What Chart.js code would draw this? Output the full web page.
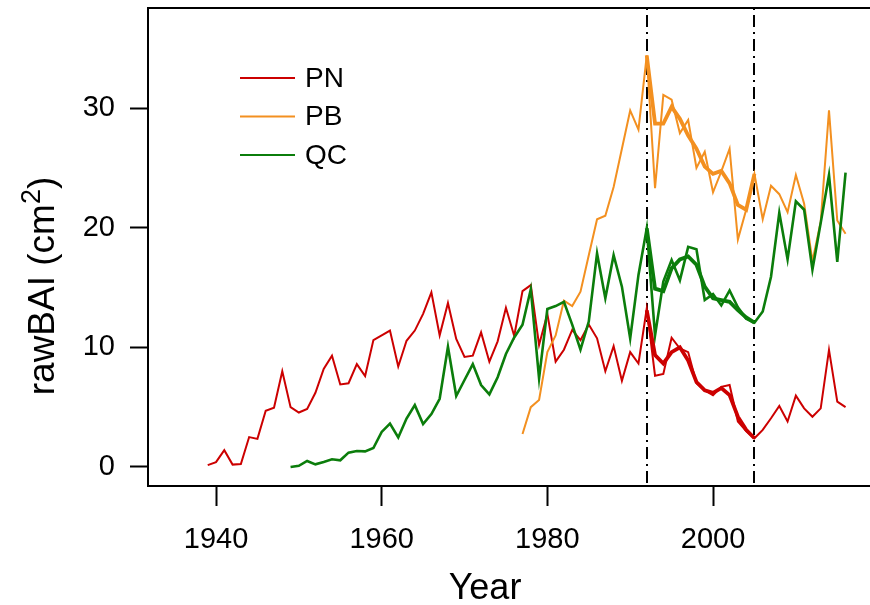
<!DOCTYPE html>
<html>
<head>
<meta charset="utf-8">
<script src="https://cdn.jsdelivr.net/npm/chart.js@4.4.1/dist/chart.umd.min.js"></script>
<style>
  html, body { margin: 0; padding: 0; background: #fff; }
  #wrap { width: 870px; height: 605px; }
</style>
</head>
<body>
<div id="wrap"><canvas id="grafico" width="870" height="605"></canvas></div>
<script>
// first year of each series
var startPN = 1939;
var startQC = 1949;
var startPB = 1977;
var startZoom = 1992;

// raw BAI per year (cm2)
var pn = [0.15, 0.4, 1.4, 0.2, 0.25, 2.5, 2.35, 4.7, 4.95, 8.0,
          5.0, 4.55, 4.85, 6.2, 8.2, 9.3, 6.9, 7.0, 8.6, 7.6,
          10.6, 11.0, 11.4, 8.4, 10.55, 11.4, 12.8, 14.6, 11.0, 13.7,
          10.7, 9.2, 9.3, 11.25, 8.8, 10.5, 13.3, 10.95, 14.7, 15.2,
          10.2, 12.8, 8.8, 9.8, 11.45, 10.6, 11.9, 10.75, 8.0, 10.1,
          7.2, 9.6, 8.65, 13.26, 7.63, 7.77, 10.8, 9.9, 9.6, 7.0,
          6.4, 6.0, 6.7, 6.85, 3.8, 3.0, 2.4, 3.1, 4.07, 5.1,
          3.8, 5.96, 4.9, 4.2, 4.9, 9.78, 5.46, 5.0];
var qc = [0.0, 0.1, 0.5, 0.22, 0.42, 0.64, 0.56, 1.2, 1.34, 1.3,
          1.58, 2.93, 3.62, 2.47, 4.05, 5.17, 3.58, 4.42, 5.7, 10.05,
          5.93, 7.27, 8.6, 6.85, 6.07, 7.5, 9.44, 10.82, 11.88, 14.85,
          7.41, 13.2, 13.45, 13.8, 11.9, 9.8, 12.15, 17.85, 14.1, 17.7,
          15.07, 10.75, 16.05, 19.95, 11.0, 15.5, 17.3, 15.6, 18.4, 18.2,
          13.95, 14.45, 13.5, 14.75, 13.35, 12.4, 12.06, 13.0, 15.9, 21.25,
          17.35, 22.2, 21.5, 16.5, 20.4, 24.4, 17.15, 24.6];
var pb = [2.76, 5.0, 5.6, 9.6, 11.0, 13.9, 13.45, 14.65, 17.7, 20.7,
          21.0, 23.4, 26.6, 29.8, 28.2, 34.4, 23.3, 31.1, 30.7, 27.9,
          29.0, 25.0, 26.35, 22.96, 24.7, 26.6, 19.0, 21.5, 24.5, 20.7,
          23.5, 22.8, 21.3, 24.4, 22.0, 17.2, 20.5, 29.8, 20.6, 19.5];

// smoothed curves over 1992-2005
var pnZoom = [13.1, 9.35, 8.65, 9.6, 10.0, 8.9, 7.1, 6.4, 6.2, 6.6, 6.0, 4.2, 3.1, 2.4];
var pbZoom = [34.4, 28.7, 28.7, 30.1, 29.1, 27.7, 26.6, 25.1, 24.5, 24.75, 23.7, 21.9, 21.5, 24.5];
var qcZoom = [19.95, 14.9, 14.7, 16.6, 17.35, 17.6, 16.9, 15.07, 14.1, 13.95, 13.8, 13.1, 12.5, 12.06];

var eventYears = [1992, 2005];
var xTicks = [1940, 1960, 1980, 2000];
var yTicks = [0, 10, 20, 30];
var names = ['PN', 'PB', 'QC'];

var colRojo = '#cc0000';
var colNaranja = '#f39020';
var colVerde = '#0b7d0b';
var fuente = '"Liberation Sans", Arial, Helvetica, sans-serif';

function puntos(inicio, valores){
    var out = [];
    for(var i = 0; i < valores.length; i++){
        out.push({x: inicio + i, y: valores[i]});
    }
    return out;
}

function serie(label, inicio, valores, color, ancho, orden){
    return {
        label: label,
        data: puntos(inicio, valores),
        borderColor: color,
        backgroundColor: color,
        borderWidth: ancho,
        pointRadius: 0,
        tension: 0,
        fill: false,
        order: orden
    };
}

var extras = {
    id: 'extras',
    beforeDatasetsDraw: function(chart){
        var ctx = chart.ctx, area = chart.chartArea, xs = chart.scales.x;
        ctx.save();
        ctx.strokeStyle = '#000';
        ctx.lineWidth = 2;
        ctx.setLineDash([2, 5, 12, 5]);
        for(var i = 0; i < eventYears.length; i++){
            var px = Math.round(xs.getPixelForValue(eventYears[i]));
            ctx.beginPath();
            ctx.moveTo(px, area.top);
            ctx.lineTo(px, area.bottom);
            ctx.stroke();
        }
        ctx.restore();
    },
    afterDraw: function(chart){
        var ctx = chart.ctx, area = chart.chartArea;
        ctx.save();
        // top of the box
        ctx.strokeStyle = '#000';
        ctx.lineWidth = 2;
        ctx.beginPath();
        ctx.moveTo(area.left - 1, area.top);
        ctx.lineTo(area.right, area.top);
        ctx.stroke();

        // legend
        var colores = [colRojo, colNaranja, colVerde];
        ctx.font = '28px ' + fuente;
        ctx.textBaseline = 'middle';
        ctx.textAlign = 'left';
        for(var i = 0; i < names.length; i++){
            var ly = 78 + i * 38.5;
            ctx.strokeStyle = colores[i];
            ctx.lineWidth = 2.2;
            ctx.beginPath();
            ctx.moveTo(240, ly);
            ctx.lineTo(295, ly);
            ctx.stroke();
            ctx.fillStyle = '#000';
            ctx.fillText(names[i], 305, ly + 1);
        }

        // x title
        ctx.font = '36px ' + fuente;
        ctx.textAlign = 'center';
        ctx.textBaseline = 'alphabetic';
        ctx.fillStyle = '#000';
        ctx.fillText('Year', 485, 599);

        // y title with superscript
        ctx.translate(54, 286);
        ctx.rotate(-Math.PI / 2);
        var t1 = 'rawBAI (cm', t2 = '2', t3 = ')';
        ctx.font = '37px ' + fuente;
        var w1 = ctx.measureText(t1).width, w3 = ctx.measureText(t3).width;
        ctx.font = '27px ' + fuente;
        var w2 = ctx.measureText(t2).width;
        var x0 = -(w1 + w2 + w3) / 2;
        ctx.textAlign = 'left';
        ctx.font = '37px ' + fuente;
        ctx.fillText(t1, x0, 0);
        ctx.font = '27px ' + fuente;
        ctx.fillText(t2, x0 + w1, -14);
        ctx.font = '37px ' + fuente;
        ctx.fillText(t3, x0 + w1 + w2, 0);
        ctx.restore();
    }
};

var grafico = new Chart(document.getElementById('grafico'), {
    type: 'line',
    data: {
        datasets: [
            serie('PN', startPN, pn, colRojo, 2.0, 6),
            serie('PB', startPB, pb, colNaranja, 2.0, 5),
            serie('QC', startQC, qc, colVerde, 2.6, 4),
            serie('PN zoom', startZoom, pnZoom, colRojo, 3.8, 3),
            serie('PB zoom', startZoom, pbZoom, colNaranja, 3.8, 2),
            serie('QC zoom', startZoom, qcZoom, colVerde, 3.8, 1)
        ]
    },
    options: {
        responsive: false,
        animation: false,
        devicePixelRatio: 1,
        layout: { padding: { top: 8, right: 0, left: 0, bottom: 0 } },
        plugins: { legend: { display: false }, tooltip: { enabled: false } },
        scales: {
            x: {
                type: 'linear',
                min: 1931.79,
                max: 2018.95,
                afterBuildTicks: function(s){ s.ticks = xTicks.map(function(v){ return {value: v}; }); },
                afterFit: function(s){ s.height = 119; s.paddingLeft = 0; s.paddingRight = 0; },
                grid: { drawOnChartArea: false, drawTicks: true, tickLength: 20, tickWidth: 2, tickColor: '#000' },
                border: { display: true, color: '#000', width: 2 },
                ticks: {
                    color: '#000', font: { family: fuente, size: 29 }, padding: 17,
                    maxRotation: 0, autoSkip: false,
                    callback: function(v){ return String(v); }
                }
            },
            y: {
                type: 'linear',
                min: -1.59,
                max: 38.36,
                afterBuildTicks: function(s){ s.ticks = yTicks.map(function(v){ return {value: v}; }); },
                afterFit: function(s){ s.width = 148; s.paddingTop = 0; s.paddingBottom = 0; },
                grid: { drawOnChartArea: false, drawTicks: true, tickLength: 18, tickWidth: 2, tickColor: '#000' },
                border: { display: true, color: '#000', width: 2 },
                ticks: {
                    color: '#000', font: { family: fuente, size: 29 }, padding: 15,
                    callback: function(v){ return String(v); }
                }
            }
        }
    },
    plugins: [extras]
});
</script>
</body>
</html>
